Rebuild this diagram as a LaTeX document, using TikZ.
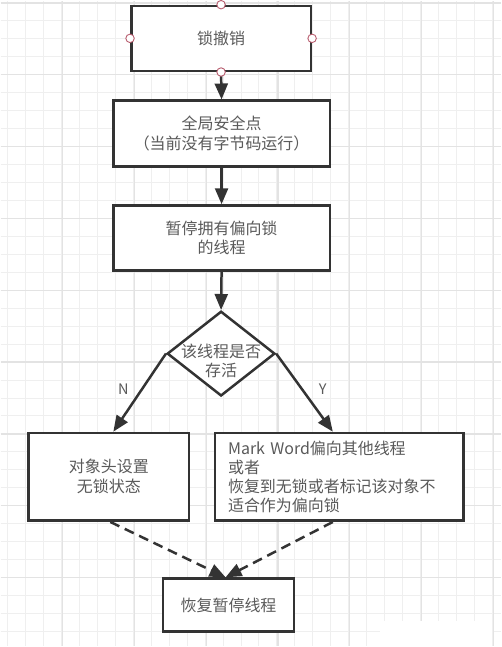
\documentclass[tikz,border=0pt]{standalone}
\usepackage{fontspec}
\setmainfont{Noto Sans CJK SC}
\usetikzlibrary{arrows.meta}
\usetikzlibrary{shapes.geometric}

\definecolor{linegray}{HTML}{333333}
\definecolor{textgray}{HTML}{5A5A5A}
\definecolor{handlered}{HTML}{B85C6E}
\definecolor{minorgrid}{HTML}{EFEFEF}
\definecolor{majorgrid}{HTML}{E3E3E3}

\begin{document}
\begin{tikzpicture}
[x=1pt,y=-1pt,%
  box/.style={shape=rectangle,draw=linegray,line width=2.5pt,fill=white,
    inner sep=0pt,align=center,text=textgray,
    font=\fontsize{16}{20}\selectfont},
  decision/.style={shape=diamond,draw=linegray,line width=2.5pt,fill=white,
    inner sep=0pt,minimum width=108,minimum height=85},
  txt/.style={inner sep=0pt,align=center,text=textgray,
    font=\fontsize{16}{19}\selectfont},
  branch/.style={inner sep=0pt,text=textgray,font=\fontsize{14.5}{16}\selectfont},
  flow/.style={draw=linegray,line width=2.5pt,
    -{Triangle[length=16pt,width=13pt]}},
  back/.style={flow,dash pattern=on 10pt off 6pt},
  handle/.style={shape=circle,draw=handlered,line width=0.9pt,fill=white,
    inner sep=0pt,minimum size=8.5}]

% background grid
\fill[white] (0,0) rectangle (502,647);
\foreach \x in {7,25,...,502} \draw[minorgrid,line width=1pt] (\x,0) -- (\x,647);
\foreach \y in {2,20,...,647} \draw[minorgrid,line width=1pt] (0,\y) -- (502,\y);
\foreach \x in {62,134,...,502} \draw[majorgrid,line width=1.2pt] (\x,0) -- (\x,647);
\foreach \y in {2,74,...,647} \draw[majorgrid,line width=1.2pt] (0,\y) -- (502,\y);
\fill[white] (380,622) rectangle (493,647);

% steps
\node[box,minimum width=180,minimum height=65] (revoke) at (221,37.5) {锁撤销};
\node[box,minimum width=217,minimum height=66] (safepoint) at (221.5,133)
  {全局安全点\\（当前没有字节码运行）};
\node[box,minimum width=217,minimum height=65] (suspend) at (221.5,237.5)
  {暂停拥有偏向锁\\的线程};
\node[decision] (alive) at (221,353.5) {};
\node[txt] (alivetext) at (221,361) {该线程是否\\存活};
\node[box,minimum width=161,minimum height=88] (nolock) at (108.5,477)
  {对象头设置\\无锁状态};
\node[box,minimum width=249,minimum height=88,text width=223,align=left,
  inner xsep=13pt,font=\fontsize{16}{19}\selectfont] (rebias) at (339.5,477)
  {Mark Word偏向其他线程\\或者\\恢复到无锁或者标记该对象不\\适合作为偏向锁};
\node[box,minimum width=131,minimum height=53] (resume) at (228.5,605.5)
  {恢复暂停线程};

% branch labels
\node[branch] (nolabel) at (123,389) {N};
\node[branch] (yeslabel) at (323,389) {Y};

% connectors
\draw[flow] (revoke.south) -- (safepoint.north);
\draw[flow] (safepoint.south) -- (suspend.north);
\draw[flow] (suspend.south) -- (alive.north);
\draw[flow] (alive.west) -- ([xshift=4.5pt]nolock.north);
\draw[flow] (alive.east) -- ([xshift=-6.5pt]rebias.north);
\draw[back] ([xshift=1.5pt]nolock.south) -- ([xshift=-3pt]resume.north);
\draw[back] ([xshift=-6.5pt]rebias.south) -- ([xshift=-3pt]resume.north);

% selection handles
\node[handle] (hnorth) at (revoke.north) {};
\node[handle] (hsouth) at (revoke.south) {};
\node[handle] (hwest) at (revoke.west) {};
\node[handle] (heast) at (revoke.east) {};
\end{tikzpicture}
\end{document}
